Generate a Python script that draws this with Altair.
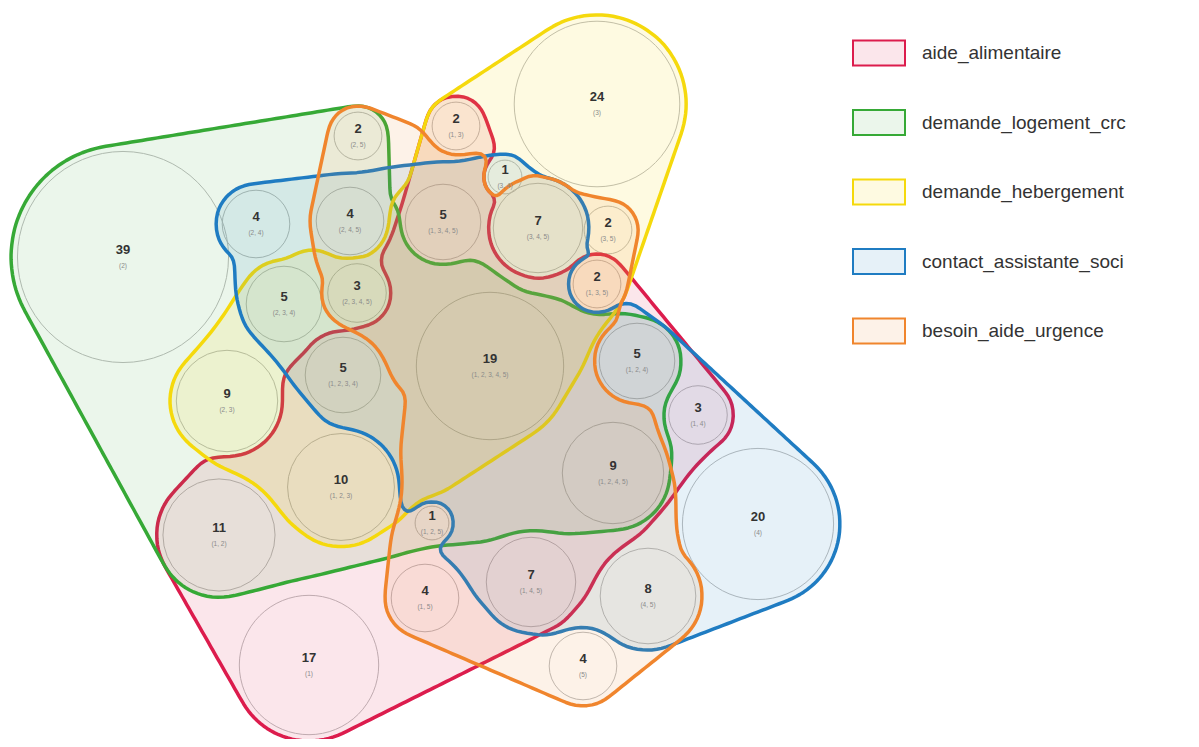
import itertools
import numpy as np
import pandas as pd
import altair as alt

# ---------------- data ----------------
set_names = ["aide_alimentaire", "demande_logement_crc", "demande_hebergement",
             "contact_assistante_soci", "besoin_aide_urgence"]
set_colors = ["#dc1c4d", "#36a936", "#f5d90c", "#1f7cc2", "#f0852d"]
set_fills = ["rgba(220,28,77,0.11)", "rgba(54,169,54,0.10)", "rgba(245,217,12,0.12)",
             "rgba(31,124,194,0.11)", "rgba(240,133,45,0.11)"]

counts = [39, 24, 2, 2, 1, 4, 4, 5, 7, 2, 2, 3, 5, 5, 19, 9, 5, 3, 9, 10, 11, 1, 20, 4, 7, 8, 4, 17]
combos = ["2", "3", "2,5", "1,3", "3,4", "2,4", "2,4,5", "1,3,4,5", "3,4,5", "3,5", "1,3,5",
          "2,3,4,5", "2,3,4", "1,2,3,4", "1,2,3,4,5", "2,3", "1,2,4", "1,4", "1,2,4,5",
          "1,2,3", "1,2", "1,2,5", "4", "1,5", "1,4,5", "4,5", "5", "1"]

# layout (circle centres, in pixels of the drawing)
pos_x = [123, 597, 358, 456, 505, 256, 350, 443, 538, 608, 597, 357, 284, 343, 490, 227,
         637, 698, 613, 341, 219, 432, 758, 425, 531, 648, 583, 309]
pos_y = [257, 104, 136, 126, 177, 224, 221, 222, 228, 230, 284, 293, 304, 375, 366, 401,
         361, 415, 473, 487, 535, 523, 524, 598, 582, 596, 666, 665]

# ---------------- layout parameters ----------------
K_R = 16.9          # radius = K_R * sqrt(count)
PAD = 6.5
MARGIN = 5.0
SMOOTH = 16.0
GAP = 205.0
BLOCK = 12.0
STEP = 3.0

W, H = 1180, 731
X0, Y0 = 8, 8

radii = np.array([K_R * np.sqrt(c) for c in counts])
cx = np.array(pos_x, float)
cy = np.array(pos_y, float)
memb = [set(int(t) for t in s.split(",")) for s in combos]

gx = np.arange(-40, 920, STEP)
gy = np.arange(-40, 800, STEP)
GX, GY = np.meshgrid(gx, gy)


def smin(a, b, k):
    h = np.clip(0.5 + 0.5 * (b - a) / k, 0, 1)
    return b * (1 - h) + a * h - k * h * (1 - h)


def smax(a, b, k):
    return -smin(-a, -b, k)


def capsule(i, j, pad):
    ax, ay, bx, by = cx[i], cy[i], cx[j], cy[j]
    ra, rb = radii[i] + pad, radii[j] + pad
    px, py = GX - ax, GY - ay
    ux, uy = bx - ax, by - ay
    h = ux * ux + uy * uy
    b = ra - rb
    if b * b >= h:
        return None
    qx = np.abs((px * uy - py * ux) / h)
    qy = (px * ux + py * uy) / h
    c0, c1 = np.sqrt(h - b * b), b
    k = c0 * qy - c1 * qx
    m = c0 * qx + c1 * qy
    n = qx * qx + qy * qy
    d1 = np.sqrt(h * n) - ra
    d2 = np.sqrt(np.maximum(h * (n + 1 - 2 * qy), 0)) - rb
    d3 = m - ra
    return np.where(k < 0, d1, np.where(k > c0, d2, d3))


def tri_edges(ids):
    xs_ = [cx[i] for i in ids]
    ys_ = [cy[i] for i in ids]
    mx, my = np.mean(xs_), np.mean(ys_)
    out = []
    for k in range(3):
        px, py = xs_[k], ys_[k]
        qx, qy = xs_[(k + 1) % 3], ys_[(k + 1) % 3]
        ex, ey = qx - px, qy - py
        L = np.hypot(ex, ey)
        nx_, ny_ = ey / L, -ex / L
        if (mx - px) * nx_ + (my - py) * ny_ > 0:
            nx_, ny_ = -nx_, -ny_
        out.append((px, py, nx_, ny_))
    return out


def triangle(ids):
    d = np.full(GX.shape, -1e9)
    for px, py, nx_, ny_ in tri_edges(ids):
        d = np.maximum(d, (GX - px) * nx_ + (GY - py) * ny_)
    return d


def in_triangle(ids, x, y):
    return all((x - px) * nx_ + (y - py) * ny_ < 0 for px, py, nx_, ny_ in tri_edges(ids))


def gap(i, j):
    return np.hypot(cx[i] - cx[j], cy[i] - cy[j]) - radii[i] - radii[j]


def seg_dist(i, j, x, y):
    ax, ay, bx, by = cx[i], cy[i], cx[j], cy[j]
    ux, uy = bx - ax, by - ay
    t = np.clip(((x - ax) * ux + (y - ay) * uy) / (ux * ux + uy * uy), 0, 1)
    return np.hypot(x - (ax + t * ux), y - (ay + t * uy))


def field(set_idx):
    m = [i for i in range(len(counts)) if set_idx in memb[i]]
    n = [i for i in range(len(counts)) if set_idx not in memb[i]]
    d_mem = np.full(GX.shape, 1e9)
    for i in m:
        d_mem = np.minimum(d_mem, np.hypot(GX - cx[i], GY - cy[i]) - radii[i] - PAD)
    d_conn = d_mem.copy()
    close = {}
    for i, j in itertools.combinations(m, 2):
        ok = gap(i, j) < GAP and all(
            seg_dist(i, j, cx[q], cy[q]) > radii[q] + BLOCK for q in n)
        close[(i, j)] = ok
        if ok:
            c = capsule(i, j, PAD)
            if c is not None:
                d_conn = np.minimum(d_conn, c)
    for i, j, k in itertools.combinations(m, 3):
        if close[(i, j)] and close[(j, k)] and close[(i, k)]:
            if any(in_triangle((i, j, k), cx[q], cy[q]) for q in n):
                continue
            d_conn = np.minimum(d_conn, triangle((i, j, k)))
    d_non = np.full(GX.shape, 1e9)
    for i in n:
        d_non = np.minimum(d_non, np.hypot(GX - cx[i], GY - cy[i]) - radii[i] - MARGIN)
    core = smax(d_conn, -d_non, SMOOTH)
    return np.minimum(core, d_mem)


def contour(F):
    inside = F < 0
    a = inside[:-1, :-1]
    b = inside[:-1, 1:]
    c = inside[1:, 1:]
    d = inside[1:, :-1]
    idx = a * 1 + b * 2 + c * 4 + d * 8
    js, iis = np.nonzero((idx > 0) & (idx < 15))
    pts, adj = {}, {}

    def ep(key):
        if key in pts:
            return
        kind, j, i = key
        if kind == "h":
            f0, f1 = F[j, i], F[j, i + 1]
            t = f0 / (f0 - f1)
            pts[key] = (gx[i] + t * STEP, gy[j])
        else:
            f0, f1 = F[j, i], F[j + 1, i]
            t = f0 / (f0 - f1)
            pts[key] = (gx[i], gy[j] + t * STEP)

    def link(k1, k2):
        ep(k1)
        ep(k2)
        adj.setdefault(k1, []).append(k2)
        adj.setdefault(k2, []).append(k1)

    for j, i in zip(js, iis):
        code = idx[j, i]
        e0, e1, e2, e3 = ("h", j, i), ("v", j, i + 1), ("h", j + 1, i), ("v", j, i)
        A, B, C, D = a[j, i], b[j, i], c[j, i], d[j, i]
        es = []
        if A != B:
            es.append(e0)
        if B != C:
            es.append(e1)
        if C != D:
            es.append(e2)
        if D != A:
            es.append(e3)
        if len(es) == 2:
            link(es[0], es[1])
        else:
            center = (F[j, i] + F[j, i + 1] + F[j + 1, i + 1] + F[j + 1, i]) / 4
            if code == 5:
                if center < 0:
                    link(e0, e1); link(e2, e3)
                else:
                    link(e3, e0); link(e1, e2)
            else:
                if center < 0:
                    link(e3, e0); link(e1, e2)
                else:
                    link(e0, e1); link(e2, e3)
    visited = set()
    loops = []
    for start in adj:
        if start in visited:
            continue
        loop = [start]
        visited.add(start)
        cur = start
        while True:
            cand = [q for q in adj[cur] if q not in visited]
            if not cand:
                break
            cur = cand[0]
            visited.add(cur)
            loop.append(cur)
        loops.append([pts[k] for k in loop])

    def area(l):
        x = np.array([p[0] for p in l]); y = np.array([p[1] for p in l])
        return abs(np.dot(x, np.roll(y, 1)) - np.dot(y, np.roll(x, 1))) / 2
    best = max(loops, key=area)
    P = np.array(best)
    win = 7
    Ps = np.zeros_like(P)
    for o in range(-(win // 2), win // 2 + 1):
        Ps += np.roll(P, o, axis=0)
    return Ps / win


rows = []
for s in range(5):
    loop = contour(field(s + 1))
    loop = np.vstack([loop[::2], loop[:1]])
    for k, (x, y) in enumerate(loop):
        rows.append({"set": set_names[s], "ord": k, "x": float(x), "y": float(y)})
shapes = pd.DataFrame(rows)

circles = pd.DataFrame({
    "count": counts,
    "label": ["(" + s.replace(",", ", ") + ")" for s in combos],
    "x": pos_x,
    "y": pos_y,
})

xs = alt.Scale(domain=[X0, X0 + W], nice=False, zero=False)
ys = alt.Scale(domain=[Y0 + H, Y0], nice=False, zero=False)
X = alt.X("x:Q", scale=xs, axis=None)
Y = alt.Y("y:Q", scale=ys, axis=None)

circle_layer = alt.Chart(circles).mark_circle(
    fillOpacity=0, stroke="#bdbdbd", strokeWidth=1, opacity=1
).encode(
    x=X, y=Y,
    size=alt.Size("count:Q",
                  scale=alt.Scale(domain=[0, 39], range=[0, 4 * K_R ** 2 * 39], zero=True),
                  legend=None),
)

shape_layer = alt.Chart(shapes).mark_line(strokeWidth=3.5, strokeJoin="round").encode(
    x=X, y=Y,
    order="ord:Q",
    stroke=alt.Stroke("set:N", scale=alt.Scale(domain=set_names, range=set_colors),
                      legend=alt.Legend(title=None)),
    fill=alt.Fill("set:N", scale=alt.Scale(domain=set_names, range=set_fills),
                  legend=alt.Legend(title=None)),
)

count_text = alt.Chart(circles).mark_text(
    fontSize=13, fontWeight="bold", color="#333333", dy=-7, font="Liberation Sans"
).encode(x=X, y=Y, text="count:Q")

sub_text = alt.Chart(circles).mark_text(
    fontSize=6.5, color="#8a8a8a", dy=9, font="Liberation Sans"
).encode(x=X, y=Y, text="label:N")

chart = alt.layer(circle_layer, shape_layer, count_text, sub_text).properties(
    width=W, height=H,
    autosize=alt.AutoSizeParams(type="none"),
    padding=0,
).configure_view(stroke=None).configure_legend(
    orient="none",
    legendX=844,
    legendY=18,
    symbolType="M-1,-0.48H1V0.48H-1Z",
    symbolSize=2704,
    symbolStrokeWidth=2,
    labelFontSize=19,
    labelColor="#333333",
    labelFont="Liberation Sans",
    labelLimit=400,
    labelOffset=16,
    rowPadding=25.5,
)

chart.save("out.html", embed_options={"renderer": "svg", "actions": False})
